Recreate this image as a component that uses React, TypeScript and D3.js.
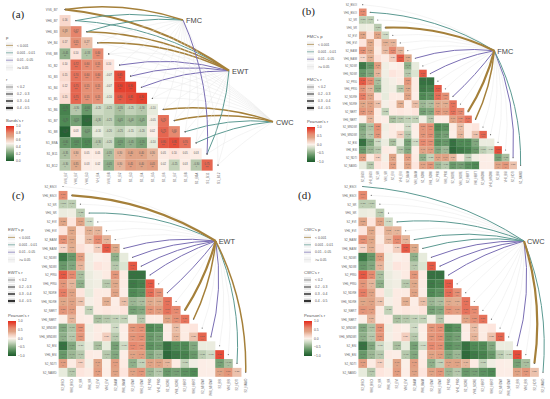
import React, { useEffect, useRef } from 'react';
import * as d3 from 'd3';

const bandLabels = ['VV6_B7', 'VH6_B7', 'VH6_B3', 'VH_B4', 'VV6_B8', 'S1_B2', 'S1_B3', 'S1_B4', 'S1_B5', 'S1_B6', 'S1_B7', 'S1_B8', 'S1_B8A', 'S1_B11', 'S1_B12'];

const indexLabels = ['S2_BSOI', 'VH6_BSOI', 'S2_SR', 'VH6_SR', 'S2_EVI', 'VH6_EVI', 'S2_BAIM', 'VH6_BAIM', 'S2_NDWI', 'VH6_NDWI', 'S2_PRI0', 'VH6_PRI0', 'S2_NDRE', 'VH6_NDRE', 'S2_NBRT', 'VH6_NBRT', 'S2_MNDWI', 'VH6_MNDWI', 'S2_BSI', 'VH6_BSI', 'S2_NDTI', 'S2_NAWD'];

// lower triangles, row by row
const bandRows = [
  [],
  [0.16],
  [0.33, 0.62],
  [0.17, 0.55, 0.27],
  [-0.45, 0.1, -0.33, 0.6],
  [0.1, 0.72, 0.6, 0.55, 0.1],
  [0.15, 0.7, 0.6, 0.6, -0.07, 0.85],
  [0.12, 0.75, 0.55, 0.55, -0.07, 0.9, 0.9],
  [0.15, 0.75, 0.55, 0.55, -0.1, 0.8, 0.85, 0.9],
  [-0.75, -0.3, -0.6, -0.2, -0.25, -0.35, -0.25, -0.3, -0.1],
  [-0.7, -0.55, -0.9, -0.3, -0.25, -0.45, -0.4, -0.45, -0.05, 0.7],
  [-0.95, 0.03, -0.55, -0.1, -0.2, -0.25, -0.15, -0.2, 0.02, 0.75, 0.6],
  [-0.6, -0.65, -0.7, -0.3, -0.2, -0.55, -0.45, -0.55, -0.1, 0.8, 0.85, 0.7],
  [-0.35, 0.3, 0.05, 0.05, -0.35, 0.3, 0.4, 0.4, 0.3, 0.05, 0.1, 0.05, 0.03],
  [-0.3, 0.35, 0.03, 0.02, -0.45, 0.3, 0.45, 0.4, 0.45, 0.02, -0.25, 0.03, -0.3, 0.75],
];

const indexRows = [
  [],
  [0.6],
  [-0.27, -0.27],
  [-0.08, -0.06, -0.28],
  [0.38, 0.1, 0.4, -0.2],
  [0.1, 0.37, 0.1, 0.32, 0.3],
  [0.55, 0.37, 0.05, 0.28, 0.6, 0.3],
  [0.17, 0.33, 0.13, 0.05, 0.2, 0.8, 0.35],
  [-0.8, -0.6, 0.45, -0.05, 0.0, 0.03, -0.45, -0.1],
  [-0.6, -0.5, 0.3, -0.05, 0.1, 0.05, -0.3, -0.15, 0.8],
  [0.8, 0.6, -0.35, -0.08, -0.03, 0.05, 0.5, 0.05, -0.85, -0.85],
  [0.5, 0.3, -0.45, -0.08, -0.05, -0.3, 0.35, 0.05, -0.8, -0.75, 0.8],
  [0.65, 0.4, 0.1, -0.1, 0.05, 0.05, 0.4, 0.03, -0.7, -0.65, 0.72, 0.55],
  [0.37, 0.4, 0.25, -0.03, 0.05, 0.33, 0.03, 0.27, -0.4, -0.35, 0.34, 0.33, 0.7],
  [0.5, 0.45, 0.05, -0.25, 0.05, 0.08, 0.05, 0.1, -0.55, -0.5, 0.5, 0.45, 0.7, 0.6],
  [0.02, 0.3, 0.05, 0.03, -0.35, -0.3, -0.25, -0.25, -0.05, -0.3, 0.05, 0.05, 0.4, 0.55, 0.7],
  [-0.5, -0.33, 0.55, -0.05, 0.05, 0.02, -0.2, 0.03, 0.5, 0.55, -0.7, -0.65, 0.05, 0.27, 0.05, 0.1],
  [-0.45, -0.3, 0.5, -0.03, 0.05, 0.2, -0.3, 0.02, 0.5, 0.55, -0.6, -0.55, 0.03, 0.3, 0.05, 0.25, 0.75],
  [-0.85, -0.5, -0.2, -0.08, -0.35, -0.1, -0.55, -0.2, 0.6, 0.55, -0.65, -0.6, -0.85, -0.7, -0.7, -0.5, -0.08, -0.08],
  [-0.6, -0.4, -0.3, 0.05, 0.03, -0.3, -0.5, 0.03, 0.4, 0.45, -0.5, -0.4, -0.9, -0.8, -0.75, -0.6, -0.27, -0.2, 0.85],
  [0.45, 0.05, 0.2, -0.03, 0.4, 0.02, 0.45, 0.05, -0.45, -0.25, 0.4, 0.4, 0.3, 0.05, -0.25, -0.05, 0.03, 0.02, -0.55, -0.35],
  [-0.1, -0.3, 0.1, 0.05, 0.45, 0.03, 0.4, 0.1, 0.4, 0.5, -0.4, -0.3, -0.6, -0.55, -0.65, -0.7, 0.03, 0.03, 0.4, 0.5, 0.25],
];

// link classes per variable: p class 0 (< 0.001) .. 3 (>= 0.05), r class 0 (< 0.2) .. 3 (0.4 - 0.5)
const bandFmcP = [0, 1, 1, 3, 3, 3, 3, 3, 3, 3, 3, 3, 3, 2, 3];
const bandFmcR = [2, 1, 1, 0, 0, 0, 0, 0, 0, 0, 0, 0, 0, 1, 0];
const bandEwtP = [0, 1, 0, 0, 3, 2, 2, 2, 3, 3, 3, 3, 3, 1, 3];
const bandEwtR = [3, 1, 2, 2, 0, 1, 1, 1, 0, 0, 0, 0, 0, 1, 0];
const bandCwcP = [3, 3, 3, 3, 3, 3, 3, 3, 3, 0, 0, 1, 1, 3, 3];
const bandCwcR = [0, 0, 0, 0, 0, 0, 0, 0, 0, 2, 2, 1, 1, 0, 0];
const fmcP = [3, 1, 3, 0, 3, 3, 3, 2, 3, 2, 3, 3, 2, 3, 0, 0, 3, 3, 3, 3, 2, 1];
const fmcR = [0, 1, 0, 3, 0, 0, 0, 1, 0, 1, 0, 0, 1, 0, 3, 2, 0, 0, 0, 0, 1, 1];
const ewtP = [3, 0, 3, 1, 3, 3, 3, 2, 2, 2, 2, 3, 2, 3, 0, 0, 3, 2, 3, 3, 1, 0];
const ewtR = [0, 3, 0, 1, 0, 0, 0, 1, 1, 1, 1, 0, 1, 0, 3, 2, 0, 1, 0, 0, 1, 2];
const cwcP = [1, 3, 3, 3, 1, 3, 1, 1, 2, 2, 2, 3, 3, 3, 3, 3, 3, 3, 2, 3, 0, 1];
const cwcR = [1, 0, 0, 0, 1, 0, 1, 1, 1, 1, 1, 0, 0, 0, 0, 0, 0, 0, 1, 0, 3, 1];

const pLabels = ['< 0.001', '0.001 - 0.01', '0.01 - 0.05', '>= 0.05'];
const rLabels = ['< 0.2', '0.2 - 0.3', '0.3 - 0.4', '0.4 - 0.5'];
const bandTicks = [1.0, 0.8, 0.6, 0.4, 0.2, 0.0];
const pearsonTicks = [1.0, 0.5, 0.0, -0.5, -1.0];

const linkColors = ['#a5803a', '#5c9a92', '#7a6eb4', '#e2e2e2'];
const linkWidths = [0.5, 1, 1.5, 2.2];
const sans = 'Liberation Sans, Arial, sans-serif';

const cellColor = d3.scaleLinear<string>()
  .domain([-1, -0.7, -0.35, -0.12, 0, 0.12, 0.35, 0.6, 1])
  .range(['#1d5a2c', '#4f8a55', '#a9bf9f', '#e3ead9', '#fbf1ea', '#fde2da', '#dfa98a', '#e68a70', '#e4291a']);

const drawMatrix = (svg: any, labels: string[], rows: number[][], box: any, fontSize: number, showAll: boolean) => {
  const x = d3.scalePoint().domain(labels).range([box.x0, box.x1]);
  const y = d3.scalePoint().domain(labels).range([box.y0, box.y1]);
  const w = x.step();
  const h = y.step();
  const fmt = d3.format('.2f');

  const cells = rows.flatMap((row, i) => row.map((r, j) => ({ r, row: labels[i], col: labels[j] })));
  const g = svg.append('g');
  g.selectAll('rect').data(cells).enter().append('rect')
    .attr('x', (d: any) => x(d.col) - w / 2)
    .attr('y', (d: any) => y(d.row) - h / 2)
    .attr('width', w + 0.1)
    .attr('height', h + 0.1)
    .attr('fill', (d: any) => cellColor(d.r));

  const labelled = cells.filter(d => showAll || Math.abs(d.r) >= 0.17);
  const stars = (r: number) => (Math.abs(r) > 0.5 ? '***' : Math.abs(r) > 0.33 ? '**' : Math.abs(r) > 0.25 ? '*' : '');
  g.selectAll('.val').data(labelled).enter().append('text')
    .attr('class', 'val')
    .attr('x', (d: any) => x(d.col))
    .attr('y', (d: any) => y(d.row))
    .attr('text-anchor', 'middle')
    .attr('font-family', sans)
    .attr('font-size', fontSize * 0.8)
    .attr('fill', '#555')
    .text((d: any) => fmt(d.r));
  g.selectAll('.star').data(labelled).enter().append('text')
    .attr('class', 'star')
    .attr('x', (d: any) => x(d.col))
    .attr('y', (d: any) => y(d.row) + h * 0.34)
    .attr('text-anchor', 'middle')
    .attr('font-family', sans)
    .attr('font-size', fontSize * 0.8)
    .attr('fill', '#555')
    .text((d: any) => stars(d.r));

  const yAxis = svg.append('g')
    .attr('transform', `translate(${box.x0 - w / 2},0)`)
    .call(d3.axisLeft(y).tickSize(0).tickPadding(2));
  yAxis.select('.domain').remove();
  yAxis.selectAll('text').attr('font-size', fontSize).attr('font-family', sans).attr('fill', '#666');

  const xAxis = svg.append('g')
    .attr('transform', `translate(0,${box.y1 + h / 2})`)
    .call(d3.axisBottom(x).tickSize(0));
  xAxis.select('.domain').remove();
  xAxis.selectAll('text')
    .attr('y', 0)
    .attr('dy', '.32em')
    .attr('text-anchor', 'end')
    .attr('transform', 'translate(0,2) rotate(-90)')
    .attr('font-size', fontSize)
    .attr('font-family', sans)
    .attr('fill', '#666');

  return { x, y };
};

const drawLinks = (svg: any, labels: string[], scales: any, node: any, pClass: number[], rClass: number[]) => {
  const links = labels
    .map((l, i) => ({ tx: scales.x(l), ty: scales.y(l), p: pClass[i], r: rClass[i] }))
    .sort((a, b) => b.p - a.p);
  const path = (d: any) => {
    const dx = node.x - d.tx;
    const dy = node.y - d.ty;
    const len = Math.hypot(dx, dy);
    // bow away from the triangle, up and to the right, flatter along the diagonal
    const lean = (dx + dy) / (len * Math.SQRT2);
    const k = (lean > 0 ? 1 : -1) * (0.04 + 0.1 * Math.abs(lean));
    const cx = (d.tx + node.x) / 2 + dy * k;
    const cy = (d.ty + node.y) / 2 - dx * k;
    const p = d3.path();
    p.moveTo(d.tx, d.ty);
    p.quadraticCurveTo(cx, cy, node.x, node.y);
    return p.toString();
  };
  svg.append('g').selectAll('path').data(links).enter().append('path')
    .attr('d', path)
    .attr('fill', 'none')
    .attr('stroke', (d: any) => linkColors[d.p])
    .attr('stroke-width', (d: any) => (d.p === 3 ? 0.4 : linkWidths[d.r]));
  svg.append('g').selectAll('circle').data(links).enter().append('circle')
    .attr('cx', (d: any) => d.tx)
    .attr('cy', (d: any) => d.ty)
    .attr('r', 0.6)
    .attr('fill', '#666');
  svg.append('text')
    .attr('x', node.x + 3)
    .attr('y', node.y + 2.8)
    .attr('font-family', sans)
    .attr('font-size', 7.4)
    .attr('fill', '#444')
    .text(node.name);
};

const drawLegend = (svg: any, box: any, pTitle: string, rTitle: string, barTitle: string, ticks: number[]) => {
  const text = (x: number, y: number, t: string, size: number) => svg.append('text')
    .attr('x', x).attr('y', y).attr('dy', '.35em')
    .attr('font-family', sans).attr('font-size', size).attr('fill', '#555').text(t);

  text(box.x, box.pY, pTitle, 4.2);
  pLabels.forEach((l, i) => {
    const yy = box.pY + 7.4 * (i + 1);
    svg.append('rect').attr('x', box.x).attr('y', yy - 3).attr('width', 7).attr('height', 6).attr('fill', '#f4f4f4');
    svg.append('line').attr('x1', box.x).attr('x2', box.x + 7).attr('y1', yy).attr('y2', yy)
      .attr('stroke', linkColors[i]).attr('stroke-width', 0.7);
    text(box.x + 11, yy, l, 3.4);
  });
  text(box.x, box.rY, rTitle, 4.2);
  rLabels.forEach((l, i) => {
    const yy = box.rY + 7 * (i + 1);
    svg.append('rect').attr('x', box.x).attr('y', yy - 3).attr('width', 7).attr('height', 6).attr('fill', '#ececec');
    svg.append('line').attr('x1', box.x).attr('x2', box.x + 7).attr('y1', yy).attr('y2', yy)
      .attr('stroke', '#333').attr('stroke-width', linkWidths[i]);
    text(box.x + 11, yy, l, 3.4);
  });

  text(box.x, box.barY - 5, barTitle, 4.2);
  const id = `bar-${box.x}-${box.barY}`;
  const grad = svg.append('defs').append('linearGradient').attr('id', id).attr('x1', 0).attr('x2', 0).attr('y1', 0).attr('y2', 1);
  d3.range(0, 1.01, 0.1).forEach(t => {
    grad.append('stop').attr('offset', t).attr('stop-color', cellColor(1 - 2 * t));
  });
  svg.append('rect').attr('x', box.x).attr('y', box.barY).attr('width', 8).attr('height', 35).attr('fill', `url(#${id})`);
  const scale = d3.scaleLinear().domain(d3.extent(ticks) as [number, number]).range([box.barY + 35, box.barY]);
  ticks.forEach(t => text(box.x + 10, scale(t), d3.format('.1f')(t), 3.4));
};

const panelTag = (svg: any, x: number, y: number, t: string) => {
  svg.append('text').attr('x', x).attr('y', y)
    .attr('font-family', 'Liberation Serif, serif').attr('font-size', 11).attr('fill', '#222').text(t);
};

const App = () => {
  const ref = useRef<SVGSVGElement>(null);

  useEffect(() => {
    const svg = d3.select(ref.current);
    svg.selectAll('*').remove();

    const a = drawMatrix(svg, bandLabels, bandRows, { x0: 65, x1: 218, y0: 9.5, y1: 165 }, 3.2, true);
    drawLinks(svg, bandLabels, a, { x: 273, y: 121.7, name: 'CWC' }, bandCwcP, bandCwcR);
    drawLinks(svg, bandLabels, a, { x: 229, y: 70.7, name: 'EWT' }, bandEwtP, bandEwtR);
    drawLinks(svg, bandLabels, a, { x: 183, y: 20, name: 'FMC' }, bandFmcP, bandFmcR);
    drawLegend(svg, { x: 6, pY: 38, rY: 80, barY: 126 }, 'p', 'r', "Bands's r", bandTicks);
    panelTag(svg, 12, 18, '(a)');

    const b = drawMatrix(svg, indexLabels, indexRows, { x0: 362.7, x1: 520.6, y0: 4.7, y1: 165.3 }, 2.7, false);
    drawLinks(svg, indexLabels, b, { x: 494.3, y: 50.7, name: 'FMC' }, fmcP, fmcR);
    drawLegend(svg, { x: 307, pY: 37, rY: 80, barY: 127 }, "FMC's p", "FMC's r", "Pearson's r", pearsonTicks);
    panelTag(svg, 302, 15, '(b)');

    const c = drawMatrix(svg, indexLabels, indexRows, { x0: 63, x1: 245.7, y0: 186.5, y1: 372.3 }, 2.9, false);
    drawLinks(svg, indexLabels, c, { x: 215.7, y: 241, name: 'EWT' }, ewtP, ewtR);
    drawLegend(svg, { x: 8, pY: 230, rY: 273, barY: 321 }, "EWT's p", "EWT's r", "Pearson's r", pearsonTicks);
    panelTag(svg, 12, 199, '(c)');

    const d = drawMatrix(svg, indexLabels, indexRows, { x0: 362.7, x1: 543, y0: 186.5, y1: 372.3 }, 2.9, false);
    drawLinks(svg, indexLabels, d, { x: 524, y: 241, name: 'CWC' }, cwcP, cwcR);
    drawLegend(svg, { x: 304, pY: 230, rY: 273, barY: 321 }, "CWC's p", "CWC's r", "Pearson's r", pearsonTicks);
    panelTag(svg, 298, 199, '(d)');
  }, []);

  return <svg ref={ref} width={550} height={399} style={{ position: 'absolute', left: 0, top: 0, background: '#fff' }} />;
};

export default App;
